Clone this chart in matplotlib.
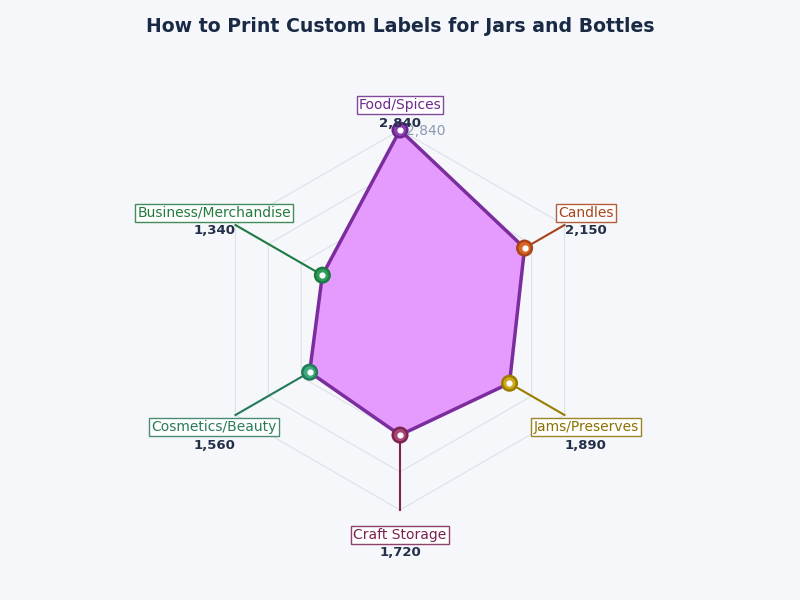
import numpy as np
import matplotlib
matplotlib.use("Agg")
import matplotlib.pyplot as plt
from matplotlib.colors import to_rgba

categories = ["Food/Spices", "Candles", "Jams/Preserves", "Craft Storage",
              "Cosmetics/Beauty", "Business/Merchandise"]
values = [2840, 2150, 1890, 1720, 1560, 1340]
value_labels = ["2,840", "2,150", "1,890", "1,720", "1,560", "1,340"]
r_max = 2840
r_tick_label = "2,840"

face_colors = ["#8E3FB0", "#D9652B", "#CDAA1C", "#A9477A", "#3BAA7E", "#2E9E5B"]
edge_colors = ["#6A2790", "#A8431A", "#9A7D00", "#7E2451", "#237A58", "#1F7A42"]
text_colors = ["#6B2A8A", "#A8431A", "#8C7000", "#7A1F4F", "#2A7A5A", "#237A3E"]

bg = "#F5F7FA"
fig = plt.figure(figsize=(8, 6), dpi=100, facecolor=bg)
ax = fig.add_axes([0.2625, 0.15, 0.475, 0.6333], projection="polar")
ax.set_facecolor(bg)
ax.set_theta_zero_location("N")
ax.set_theta_direction(-1)
ax.set_ylim(0, r_max)
ax.grid(False)
ax.spines["polar"].set_visible(False)
ax.set_xticks([])
ax.set_yticks([])
ax.patch.set_alpha(0)

n = len(categories)
theta = np.arange(n) * 2 * np.pi / n
tc = np.append(theta, theta[0])

# hexagonal grid rings
for frac in [0.2, 0.4, 0.6, 0.8, 1.0]:
    ax.plot(tc, [r_max * frac] * (n + 1), color="#DDE1E8", lw=0.8, zorder=1)

# leader lines from marker to outer ring
for t, v, c in zip(theta, values, edge_colors):
    ax.plot([t, t], [v, r_max], color=c, lw=1.5, zorder=2, clip_on=False)

vc = values + values[:1]
ax.fill(tc, vc, color="#E59BFD", zorder=3)
ax.plot(tc, vc, color="#7B2D9E", lw=2.5, zorder=4)

ax.scatter(theta, values, s=110, c=face_colors, edgecolors=edge_colors,
           linewidths=1.8, zorder=5, clip_on=False)
ax.scatter(theta, values, s=12, c="white", zorder=6, clip_on=False)

# radial tick label
ax.annotate(r_tick_label, xy=(0, r_max), xytext=(4, -1), textcoords="offset points",
            color="#8A9AB0", fontsize=10, ha="left", va="center", zorder=7)

label_r = r_max * 1.13
for t, cat, vl, tcol in zip(theta, categories, value_labels, text_colors):
    ax.text(t, label_r, cat, color=tcol, fontsize=10, ha="center", va="center",
            bbox=dict(boxstyle="square,pad=0.15", fc="white",
                      ec=to_rgba(tcol, 0.85), lw=1),
            zorder=8, clip_on=False)
    ax.annotate(vl, xy=(t, label_r), xytext=(0, -13), textcoords="offset points",
                color="#243049", fontsize=9.5, fontweight="bold",
                ha="center", va="center", zorder=8, annotation_clip=False)

fig.text(0.5, 0.956, "How to Print Custom Labels for Jars and Bottles",
         ha="center", va="center", fontsize=13.6, fontweight="bold", color="#1A2A44")

fig.savefig("out.png", dpi=100, facecolor=bg)
